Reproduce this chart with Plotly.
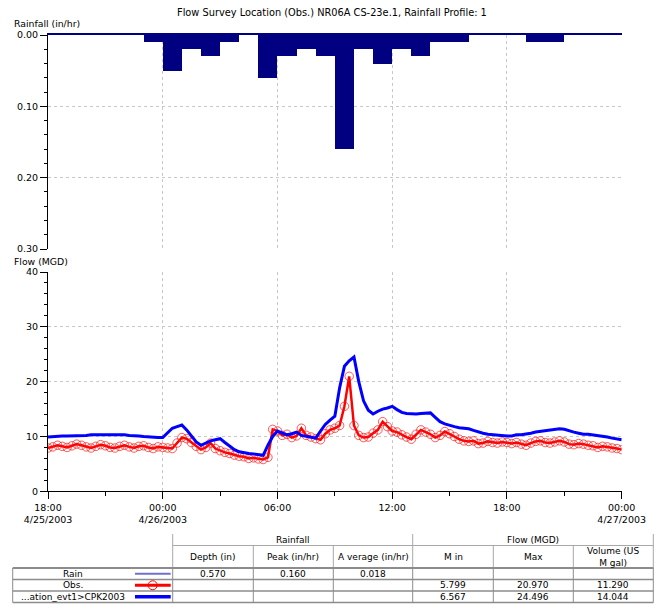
import plotly.graph_objects as go
import pandas as pd

W, H = 665, 610


def px(x):
    return x / W


def py(y):
    return 1 - y / H


# ---------------- data ----------------
chart_title = "Flow Survey Location (Obs.) NR06A CS-23e.1, Rainfall Profile: 1"
rain_axis_title = "Rainfall (in/hr)"
flow_axis_title = "Flow (MGD)"

start_time = "2003-04-25 18:00"
end_time = "2003-04-27 00:00"

# hourly rainfall intensity (in/hr), hour starting 18:00 4/25
rain_in_hr = [0, 0, 0, 0, 0, 0.01,
              0.05, 0.02, 0.03, 0.01, 0, 0.06,
              0.03, 0.02, 0.03, 0.16, 0.02, 0.04,
              0.02, 0.03, 0.01, 0.01, 0, 0,
              0, 0.01, 0.01, 0, 0, 0]

# 15-minute observed flow (MGD), 18:00 4/25 .. 00:00 4/27
obs_mgd = [7.9, 8.1, 8.4, 8.2, 8.0, 8.3, 8.6, 8.4, 8.1, 7.9, 8.2, 8.5,
           8.3, 8.0, 7.9, 8.2, 8.4, 8.1, 7.9, 8.2, 8.3, 8.0, 7.8, 8.1, 8.0,
           7.9, 7.8, 8.8, 9.8, 9.6, 8.9, 8.2, 7.6, 8.0, 8.8, 7.8, 7.4,
           7.1, 6.9, 6.6, 6.4, 6.3, 6.0, 6.1, 5.9, 5.799, 6.2, 11.3, 11.0,
           10.2, 10.4, 9.8, 10.1, 11.5, 10.2, 9.9, 9.6, 9.4, 10.5, 11.2, 11.5,
           12.0, 15.5, 20.97, 12.0, 10.2, 9.8, 9.9, 10.6, 11.2, 12.7, 11.8, 11.0,
           10.8, 10.3, 9.9, 9.5, 10.4, 11.2, 10.8, 10.4, 9.8, 10.2, 10.9, 10.5,
           10.0, 9.5, 9.2, 9.1, 9.2, 8.7, 8.8, 9.1, 8.9, 8.8, 9.0, 8.9,
           8.7, 8.9, 8.6, 8.4, 8.8, 9.1, 9.2, 8.9, 8.8, 9.0, 9.2, 9.0,
           8.6, 8.5, 8.7, 8.6, 8.4, 8.3, 8.0, 8.2, 8.1, 7.9, 7.8, 7.6]

# 15-minute modelled flow (MGD)
model_mgd = [9.9, 10.0, 10.0, 10.1, 10.1, 10.1, 10.2, 10.2, 10.2, 10.3, 10.3, 10.4,
             10.4, 10.4, 10.3, 10.3, 10.3, 10.2, 10.2, 10.1, 10.0, 9.9, 9.9, 9.8, 9.8,
             10.6, 11.5, 11.8, 12.1, 11.2, 10.0, 9.0, 8.4, 8.8, 9.2, 9.4, 9.6,
             8.9, 8.2, 7.6, 7.2, 7.0, 6.9, 6.8, 6.7, 6.567, 8.4, 10.0, 11.0,
             10.6, 10.3, 10.5, 10.8, 10.2, 10.0, 9.9, 9.7, 11.0, 12.2, 13.0, 13.7,
             18.9, 22.8, 23.8, 24.496, 20.0, 16.5, 14.8, 14.1, 14.6, 15.0, 15.2, 15.5,
             14.9, 14.4, 14.2, 14.1, 14.1, 14.2, 14.3, 14.3, 13.5, 12.7, 12.3, 12.0,
             11.8, 11.6, 11.5, 11.4, 11.1, 10.8, 10.6, 10.4, 10.3, 10.2, 10.1, 10.1,
             10.1, 10.3, 10.3, 10.4, 10.6, 10.8, 10.9, 11.0, 11.1, 11.2, 11.4, 11.3,
             11.0, 10.8, 10.6, 10.4, 10.4, 10.3, 10.2, 10.1, 9.9, 9.7, 9.5, 9.4]

x_tick_text = ["18:00<br>4/25/2003", "00:00<br>4/26/2003", "06:00", "12:00",
               "18:00", "00:00<br>4/27/2003"]

table_groups = ["Rainfall", "Flow (MGD)"]
table_columns = ["Depth (in)", "Peak (in/hr)", "A verage (in/hr)", "M in", "Max",
                 "Volume (US<br>M gal)"]
table_rows = ["Rain", "Obs.", "...ation_evt1>CPK2003"]
table_cells = [["0.570", "0.160", "0.018", "", "", ""],
               ["", "", "", "5.799", "20.970", "11.290"],
               ["", "", "", "6.567", "24.496", "14.044"]]

rain_times = pd.date_range(start_time, periods=len(rain_in_hr), freq="h")
flow_times = pd.date_range(start_time, periods=len(obs_mgd), freq="15min")
x_tick_vals = pd.date_range(start_time, end_time, freq="6h")
x_minor_vals = pd.date_range(start_time, end_time, freq="3h")

# ---------------- styles ----------------
FONT = "DejaVu Sans"
GRID = "#c8c8c8"
NAVY = "#000080"
BLUE = "#0000ff"
RED = "#ff0000"
X0, X1 = 48, 621.7

fig = go.Figure()

fig.add_trace(go.Bar(
    x=rain_times, y=rain_in_hr, offset=0, width=3600000,
    marker=dict(color=NAVY, line=dict(width=0)),
    xaxis="x", yaxis="y", name="Rain"))

fig.add_trace(go.Scatter(
    x=flow_times, y=obs_mgd, mode="lines+markers",
    line=dict(color=RED, width=2.5),
    marker=dict(symbol="circle-open", size=8.5, color="rgba(255,20,20,0.7)",
                line=dict(width=1)),
    xaxis="x2", yaxis="y2", name="Obs."))

fig.add_trace(go.Scatter(
    x=flow_times, y=model_mgd, mode="lines",
    line=dict(color=BLUE, width=3),
    xaxis="x2", yaxis="y2", name="Model"))

xcommon = dict(domain=[px(X0), px(X1)], range=[start_time, end_time],
               showgrid=True, gridcolor=GRID, griddash="3px,3px", gridwidth=1,
               tickmode="array", tickvals=x_tick_vals, zeroline=False,
               automargin=False)

fig.update_layout(
    width=W, height=H, margin=dict(l=0, r=0, t=0, b=0, pad=0, autoexpand=False),
    paper_bgcolor="white", plot_bgcolor="white", showlegend=False,
    bargap=0,
    font=dict(family=FONT, size=9.5, color="#000"),
    xaxis=dict(**xcommon, anchor="y", side="top", showticklabels=False, ticks="",
               showline=True, linecolor=NAVY, linewidth=1.5),
    yaxis=dict(domain=[py(249), py(35)], range=[0.30, 0], tickmode="linear",
               tick0=0, dtick=0.1, tickformat=".2f", ticks="outside", ticklen=7,
               tickcolor="#000", showline=True, linecolor="#000", linewidth=1,
               showgrid=True, gridcolor=GRID, griddash="3px,3px", zeroline=False,
               automargin=False,
               minor=dict(dtick=0.02, ticks="outside", ticklen=3, tickcolor="#000",
                          showgrid=False),
               anchor="x"),
    xaxis2=dict(**xcommon, anchor="y2", ticktext=x_tick_text, ticks="outside",
                ticklen=7, tickcolor="#000", showline=True, linecolor="#000",
                linewidth=1,
                minor=dict(tickmode="array", tickvals=x_minor_vals, ticks="outside",
                           ticklen=4, tickcolor="#000", showgrid=False)),
    yaxis2=dict(domain=[py(491.3), py(272)], range=[0, 40], tickmode="linear",
                tick0=0, dtick=10, ticks="outside", ticklen=7, tickcolor="#000",
                showline=True, linecolor="#000", linewidth=1, showgrid=True,
                gridcolor=GRID, griddash="3px,3px", zeroline=False,
                automargin=False,
                minor=dict(dtick=2, ticks="outside", ticklen=3, tickcolor="#000",
                           showgrid=False),
                anchor="x2"),
)

ann = []
ann.append(dict(text=chart_title, x=px(332), y=py(12.5), xref="paper", yref="paper",
                showarrow=False, xanchor="center", yanchor="middle",
                font=dict(size=9.8, family=FONT)))
ann.append(dict(text=rain_axis_title, x=px(12), y=py(24), xref="paper", yref="paper",
                showarrow=False, xanchor="left", yanchor="middle",
                font=dict(size=9.3, family=FONT)))
ann.append(dict(text=flow_axis_title, x=px(12), y=py(261), xref="paper", yref="paper",
                showarrow=False, xanchor="left", yanchor="middle",
                font=dict(size=9.3, family=FONT)))

# ---------------- table (drawn with shapes + annotations) ----------------
col_edges = [12.7, 172.7, 253.3, 333.3, 412.7, 493.3, 573.3, 653.3]
group_spans = [(1, 4), (4, 7)]
y_top, y_grp, y_hdr = 534, 545.5, 568
row_edges = [568, 579.5, 591, 602.5]
label_cx = 72.5
HDR_LINE = "#a8a8a8"
DATA_LINE = "#8c8c8c"

shapes = []


def hline(x0, x1, y, color, w=1):
    shapes.append(dict(type="line", xref="paper", yref="paper",
                       x0=px(x0), x1=px(x1), y0=py(y), y1=py(y),
                       line=dict(color=color, width=w)))


def vline(x, y0, y1, color, w=1):
    shapes.append(dict(type="line", xref="paper", yref="paper",
                       x0=px(x), x1=px(x), y0=py(y0), y1=py(y1),
                       line=dict(color=color, width=w)))


for a, b in group_spans:
    vline(col_edges[a], y_top, y_hdr, HDR_LINE)
vline(col_edges[-1], y_top, y_hdr, HDR_LINE)
hline(col_edges[1], col_edges[-1], y_grp, HDR_LINE)
for i in range(2, len(col_edges) - 1):
    if i != 4:
        vline(col_edges[i], y_grp, y_hdr, HDR_LINE)
for i in range(len(col_edges)):
    vline(col_edges[i], row_edges[0], row_edges[-1], DATA_LINE)
hline(col_edges[0], col_edges[-1], row_edges[0], DATA_LINE, 2)
for y in row_edges[1:]:
    hline(col_edges[0], col_edges[-1], y, DATA_LINE, 1.5)

for (a, b), g in zip(group_spans, table_groups):
    ann.append(dict(text=g, x=px((col_edges[a] + col_edges[b]) / 2), y=py(539.5),
                    xref="paper", yref="paper", showarrow=False,
                    xanchor="center", yanchor="middle", font=dict(size=9, family=FONT)))
for j, c in enumerate(table_columns):
    ann.append(dict(text=c, x=px((col_edges[j + 1] + col_edges[j + 2]) / 2),
                    y=py(556.5), xref="paper", yref="paper", showarrow=False,
                    xanchor="center", yanchor="middle",
                    font=dict(size=9, family=FONT)))

row_cy = [(row_edges[k] + row_edges[k + 1]) / 2 for k in range(3)]
for k, (name, cells) in enumerate(zip(table_rows, table_cells)):
    ann.append(dict(text=name, x=px(label_cx), y=py(row_cy[k]), xref="paper",
                    yref="paper", showarrow=False, xanchor="center",
                    yanchor="middle", font=dict(size=9, family=FONT)))
    for j, v in enumerate(cells):
        if v:
            ann.append(dict(text=v, x=px((col_edges[j + 1] + col_edges[j + 2]) / 2),
                            y=py(row_cy[k]), xref="paper", yref="paper",
                            showarrow=False, xanchor="center", yanchor="middle",
                            font=dict(size=9, family=FONT)))

# legend samples in the label column
sx0, sx1 = 135, 170.7
hline(sx0, sx1, row_cy[0], "#7070d0", 2)
hline(sx0, sx1, row_cy[1], RED, 3)
shapes.append(dict(type="circle", xref="paper", yref="paper",
                   x0=px(152.7 - 4.5), x1=px(152.7 + 4.5),
                   y0=py(row_cy[1] + 4.5), y1=py(row_cy[1] - 4.5),
                   line=dict(color=RED, width=1)))
hline(sx0, sx1, row_cy[2], BLUE, 3.5)

fig.update_layout(annotations=ann, shapes=shapes)
fig.write_html("out.html")
